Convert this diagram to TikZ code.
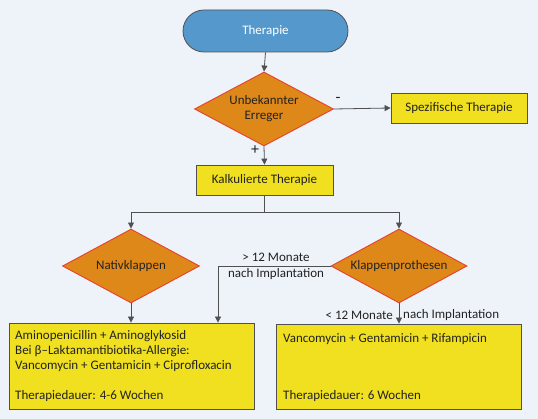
\documentclass[tikz,border=0pt]{standalone}
\usepackage{fontspec}
\setmainfont{Carlito}
\usetikzlibrary{shapes.geometric,arrows.meta}
\definecolor{bg}{HTML}{EEF3FA}
\definecolor{startblue}{HTML}{5599CC}
\definecolor{diafill}{HTML}{DD8818}
\definecolor{diaborder}{HTML}{E84030}
\definecolor{boxfill}{HTML}{F0E020}
\definecolor{linegray}{HTML}{505050}
\definecolor{txt}{HTML}{222222}
\tikzset{
  every node/.style={font=\fontsize{13}{15}\selectfont, text=txt},
  startnode/.style={draw=linegray, fill=startblue, rounded corners=21pt, minimum width=165pt, minimum height=42pt, inner sep=0pt, line width=0.8pt, text=white},
  decision/.style={shape=diamond, draw=diaborder, fill=diafill, minimum width=137pt, minimum height=74pt, inner sep=0pt, line width=0.9pt, align=center},
  actionbox/.style={draw=linegray, fill=boxfill, line width=0.8pt, inner sep=0pt},
  conn/.style={draw=linegray, line width=0.8pt},
  arr/.style={conn, -{Triangle[width=6pt,length=6pt]}},
  lbl/.style={inner sep=0pt}
}
\begin{document}
\begin{tikzpicture}[x=1pt,y=-1pt]
\fill[bg] (0,0) rectangle (538,419);
\useasboundingbox (0,0) rectangle (538,419);

\node[startnode] (start) at (265.5,31) {Therapie};
\node[decision, minimum width=139pt] (unb) at (264,109) {\makebox[0pt]{Unbekannter}\\\makebox[0pt]{Erreger}};
\node[actionbox, minimum width=136pt, minimum height=30pt] (spez) at (459,108) {Spezifische Therapie};
\node[actionbox, minimum width=137pt, minimum height=30pt] (kalk) at (264.5,180) {Kalkulierte Therapie};
\node[decision] (nativ) at (131,266) {\makebox[0pt]{Nativklappen}};
\node[decision, minimum width=136pt] (prot) at (399,266) {\makebox[0pt]{Klappenprothesen}};
\node[actionbox, minimum width=245pt, minimum height=86pt] (left) at (131.5,366) {};
\node[actionbox, minimum width=245pt, minimum height=85pt] (right) at (398.5,366.5) {};

\node[lbl, anchor=west, align=left] (lefttext) at (15,366) {Aminopenicillin + Aminoglykosid\\Bei β–Laktamantibiotika-Allergie:\\Vancomycin + Gentamicin + Ciprofloxacin\\[15pt]Therapiedauer: 4-6 Wochen};
\node[lbl, anchor=west] (righttop) at (283,339) {Vancomycin + Gentamicin + Rifampicin};
\node[lbl, anchor=west] (rightbot) at (283,396) {Therapiedauer: 6 Wochen};

\coordinate (split) at (264.5,212);
\coordinate (splitL) at (131,212);
\coordinate (splitR) at (399,212);
\coordinate (bend) at (218,266);

\draw[arr] (start.south) -- (unb.north);
\draw[arr] (unb.east) -- (spez.west);
\draw[arr] (unb.south) -- (kalk.north);
\draw[conn] (kalk.south) -- (split);
\draw[arr] (split) -- (splitL) -- (nativ.north);
\draw[arr] (split) -- (splitR) -- (prot.north);
\draw[arr] (nativ.south) -- (nativ.south |- left.north);
\draw[arr] (prot.west) -- (bend) -- (bend |- left.north);
\draw[arr] (prot.south) -- (prot.south |- right.north);

\node[lbl, font=\fontsize{16}{16}\selectfont] (minus) at (338,100) {-};
\node[lbl, font=\fontsize{16}{16}\selectfont] (plus) at (255,150) {+};
\node[lbl] (gt1) at (276,257) {> 12 Monate};
\node[lbl] (gt2) at (276,274) {nach Implantation};
\node[lbl, anchor=east] (lt1) at (393,315) {< 12 Monate};
\node[lbl, anchor=west] (lt2) at (403,315) {nach Implantation};
\end{tikzpicture}
\end{document}
